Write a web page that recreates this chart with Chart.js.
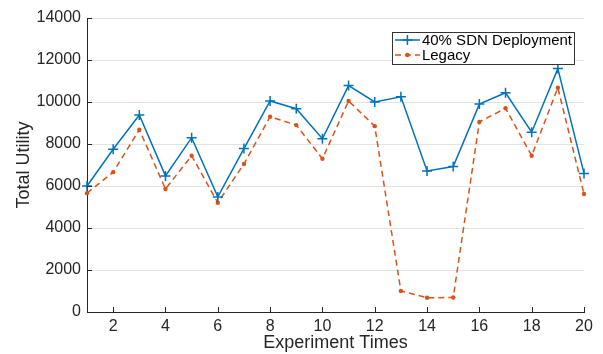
<!DOCTYPE html>
<html>
<head>
<meta charset="utf-8">
<style>
  html, body { margin: 0; padding: 0; background: #fff; }
  #wrap { position: relative; width: 603px; height: 354px; }
</style>
</head>
<body>
<div id="wrap">
  <canvas id="myChart"></canvas>
</div>

<script src="https://cdn.jsdelivr.net/npm/chart.js"></script>

<script>
  const runs = [1,2,3,4,5,6,7,8,9,10,11,12,13,14,15,16,17,18,19,20];
  const sdn = [6000,7750,9380,6480,8300,5480,7780,10050,9680,8250,
               10780,10000,10250,6720,6930,9900,10440,8560,11590,6600];
  const legacy = [5660,6660,8680,5860,7440,5200,7050,9300,8900,7300,
                  10050,8850,1000,680,690,9050,9700,7440,10680,5620];
  const xTicks = [2,4,6,8,10,12,14,16,18,20];
  const yTicks = [0,2000,4000,6000,8000,10000,12000,14000];

  const blue = '#0072BD';
  const orange = '#D95319';
  const axisColor = '#262626';
  const fontFamily = '"Liberation Sans", Arial, Helvetica, sans-serif';

  // matlab style inward ticks
  const inwardTicks = {
    id: 'inwardTicks',
    afterDraw(chart) {
      const ctx = chart.ctx;
      const xs = chart.scales.x, ys = chart.scales.y;
      const a = chart.chartArea;
      ctx.save();
      ctx.strokeStyle = axisColor;
      ctx.lineWidth = 1;
      ctx.beginPath();
      xTicks.forEach(v => {
        const px = Math.round(xs.getPixelForValue(v)) + 0.5;
        ctx.moveTo(px, a.bottom);
        ctx.lineTo(px, a.bottom - 5);
      });
      yTicks.forEach(v => {
        const py = Math.round(ys.getPixelForValue(v)) + 0.5;
        ctx.moveTo(a.left, py);
        ctx.lineTo(a.left + 5, py);
      });
      ctx.stroke();
      ctx.restore();
    }
  };

  // boxed legend in upper right of the axes
  const boxLegend = {
    id: 'boxLegend',
    afterDraw(chart) {
      const ctx = chart.ctx;
      const a = chart.chartArea;
      const sets = chart.data.datasets;
      ctx.save();
      ctx.font = '15px ' + fontFamily;
      let tw = 0;
      sets.forEach(d => { tw = Math.max(tw, ctx.measureText(d.label).width); });
      const w = 30 + tw + 2, rowH = 15, h = sets.length * rowH + 2;
      const right = a.right - 10, top = a.top + 14;
      const left = right - w;
      ctx.fillStyle = '#fff';
      ctx.fillRect(left, top, w, h);
      ctx.strokeStyle = '#333';
      ctx.lineWidth = 1;
      ctx.strokeRect(Math.round(left) + 0.5, Math.round(top) + 0.5, Math.round(w), Math.round(h));
      sets.forEach((d, i) => {
        const cy = top + 8 + i * rowH;
        ctx.strokeStyle = d.borderColor;
        ctx.lineWidth = d.borderWidth;
        ctx.setLineDash(d.borderDash || []);
        ctx.beginPath();
        ctx.moveTo(left + 3, cy);
        ctx.lineTo(left + 28, cy);
        ctx.stroke();
        ctx.setLineDash([]);
        const mx = left + 15.5;
        if (d.pointStyle === 'cross') {
          ctx.beginPath();
          ctx.moveTo(mx - d.pointRadius, cy); ctx.lineTo(mx + d.pointRadius, cy);
          ctx.moveTo(mx, cy - d.pointRadius); ctx.lineTo(mx, cy + d.pointRadius);
          ctx.stroke();
        } else {
          ctx.fillStyle = d.pointBackgroundColor;
          ctx.beginPath();
          ctx.arc(mx, cy, d.pointRadius, 0, Math.PI * 2);
          ctx.fill();
        }
        ctx.fillStyle = '#000';
        ctx.textBaseline = 'middle';
        ctx.textAlign = 'left';
        ctx.fillText(d.label, left + 30, cy + 1);
      });
      ctx.restore();
    }
  };

  const ctx = document.getElementById('myChart');
  new Chart(ctx, {
    type: 'line',
    data: {
      datasets: [{
        label: '40% SDN Deployment',
        data: sdn.map((v, i) => ({x: runs[i], y: v})),
        borderColor: blue,
        backgroundColor: blue,
        borderWidth: 1.5,
        pointStyle: 'cross',
        pointRadius: 5,
        pointBorderWidth: 1.5,
        pointBorderColor: blue,
        pointBackgroundColor: blue,
        tension: 0,
        clip: false
      }, {
        label: 'Legacy',
        data: legacy.map((v, i) => ({x: runs[i], y: v})),
        borderColor: orange,
        backgroundColor: orange,
        borderWidth: 1.5,
        borderDash: [6, 4],
        pointStyle: 'circle',
        pointRadius: 2.2,
        pointBorderWidth: 0,
        pointBackgroundColor: orange,
        tension: 0,
        clip: false
      }]
    },
    options: {
      responsive: true,
      maintainAspectRatio: false,
      animation: false,
      layout: { padding: { top: 18, right: 19, left: 0, bottom: 0 } },
      plugins: {
        legend: { display: false },
        tooltip: { enabled: false }
      },
      scales: {
        x: {
          type: 'linear',
          min: 1,
          max: 20,
          afterBuildTicks: s => { s.ticks = xTicks.map(v => ({value: v})); },
          afterFit: s => { s.height = 42; },
          grid: { display: false, drawTicks: false },
          border: { display: true, color: axisColor, width: 1 },
          ticks: { color: axisColor, padding: 5, font: { family: fontFamily, size: 16 },
                   callback: v => String(v) },
          title: {
            display: true, text: 'Experiment Times', color: axisColor,
            padding: { top: 0, bottom: 0 },
            font: { family: fontFamily, size: 18 }
          }
        },
        y: {
          min: 0,
          max: 14000,
          afterBuildTicks: s => { s.ticks = yTicks.map(v => ({value: v})); },
          afterFit: s => { s.width = 87; },
          grid: { color: '#e3e3e3', drawTicks: false },
          border: { display: true, color: axisColor, width: 1 },
          ticks: { color: axisColor, padding: 6, font: { family: fontFamily, size: 16 },
                   callback: v => String(v) },
          title: {
            display: true, text: 'Total Utility', color: axisColor,
            padding: { top: 13, bottom: 0 },
            font: { family: fontFamily, size: 18 }
          }
        }
      }
    },
    plugins: [inwardTicks, boxLegend]
  });
</script>
</body>
</html>
